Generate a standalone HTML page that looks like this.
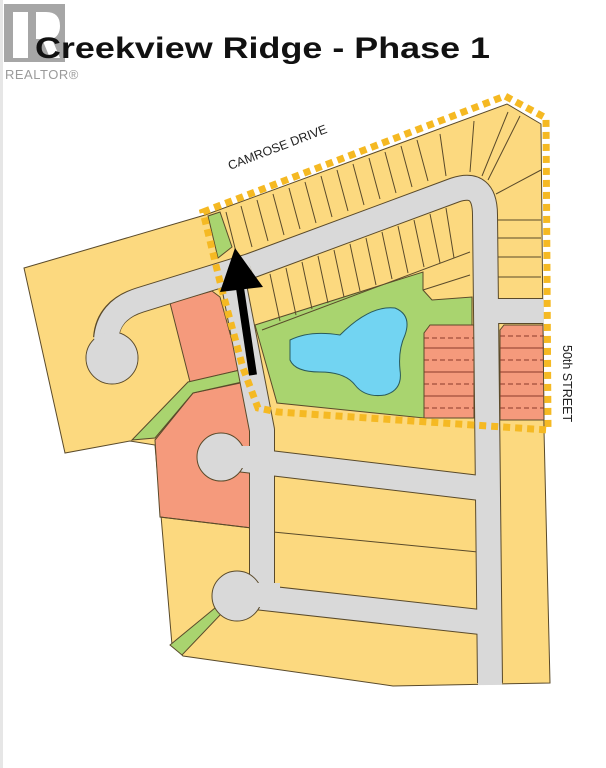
<!DOCTYPE html>
<html><head><meta charset="utf-8"><style>
html,body{margin:0;padding:0;background:#fff;}
svg{display:block;}
</style></head><body>
<svg width="606" height="768" viewBox="0 0 606 768" xmlns="http://www.w3.org/2000/svg">
<rect width="606" height="768" fill="#fff"/>
<rect x="0" y="0" width="3" height="768" fill="#e6e6e6"/>
<rect x="4" y="4" width="61" height="58" fill="#a6a6a6"/>
<rect x="13" y="12" width="15" height="46" fill="#fff"/>
<path d="M36 12 h10 q14 0 14 14 q0 10 -8 13 l8 19 h-10 l-8 -19 h-6z" fill="#fff"/>
<text x="5" y="79" font-family="Liberation Sans, sans-serif" font-size="13" fill="#9a9a9a" letter-spacing="0.5">REALTOR®</text>
<text x="35" y="58" font-family="Liberation Sans, sans-serif" font-weight="bold" font-size="30" fill="#111" textLength="455" lengthAdjust="spacingAndGlyphs">Creekview Ridge - Phase 1</text>

<polygon points="24,268 205,215 507,104 541,124 544,430 550,683 393,686 183,656 172,645 155,445 130,441 65,453" fill="#fcd97f" stroke="#5a4a2a" stroke-width="1"/>

<g fill="#f59a7c" stroke="#5a4a2a" stroke-width="1">
<polygon points="170,303 212,291 220,297 240,370 190,382"/>
<polygon points="155,440 193,393 245,382 252,440 252,528 160,517"/>
<polygon points="428,325 474,325 474,418 424,418 424,332"/>
<polygon points="504,325 543,325 544,420 500,420 500,330"/>
</g>
<g stroke="#8a3a2a" stroke-width="1">
<line x1="424" y1="338" x2="474" y2="338" stroke-dasharray="5 3"/>
<line x1="424" y1="348" x2="474" y2="348"/>
<line x1="424" y1="360" x2="474" y2="360" stroke-dasharray="5 3"/>
<line x1="424" y1="372" x2="474" y2="372"/>
<line x1="424" y1="384" x2="474" y2="384" stroke-dasharray="5 3"/>
<line x1="424" y1="396" x2="474" y2="396"/>
<line x1="424" y1="408" x2="474" y2="408" stroke-dasharray="5 3"/>
<line x1="500" y1="336" x2="544" y2="336" stroke-dasharray="5 3"/>
<line x1="500" y1="348" x2="544" y2="348"/>
<line x1="500" y1="360" x2="544" y2="360" stroke-dasharray="5 3"/>
<line x1="500" y1="372" x2="544" y2="372"/>
<line x1="500" y1="384" x2="544" y2="384" stroke-dasharray="5 3"/>
<line x1="500" y1="396" x2="544" y2="396"/>
<line x1="500" y1="408" x2="544" y2="408" stroke-dasharray="5 3"/>
</g>

<g fill="#a9d46f" stroke="#5a4a2a" stroke-width="1">
<polygon points="255,325 423,272 423,290 432,300 472,297 472,325 430,325 424,333 424,418 277,403"/>
<polygon points="208,216 220,212 232,247 218,258"/>
<polygon points="132,440 188,382 240,370 242,382 193,393 155,438"/>
<polygon points="170,645 215,608 222,613 182,655"/>
</g>

<g stroke="#5a4a2a" stroke-width="1" fill="none">
<line x1="253" y1="530" x2="478" y2="552"/>
<line x1="160" y1="517" x2="252" y2="528"/>
<line x1="262" y1="330" x2="470" y2="252"/>
<line x1="423" y1="290" x2="470" y2="275"/>
<path d="M236,252 L226,212 M252,247 L241,206 M268,241 L257,200 M284,235 L273,194 M300,229 L289,188 M316,223 L305,182 M332,217 L321,176 M348,211 L337,170 M364,205 L353,164 M380,199 L369,158 M396,193 L385,152 M412,187 L401,146 M428,181 L417,140 M446,176 L440,134 M470,172 L474,121 M482,176 L508,112 M488,180 L520,116 M496,194 L541,170"/>
<path d="M270,274 L280,321 M286,268 L296,315 M302,262 L312,309 M318,256 L328,303 M334,250 L344,297 M350,244 L360,291 M366,238 L376,285 M382,232 L392,279 M398,226 L408,273 M414,220 L424,267 M430,214 L440,263 M446,208 L454,258"/>
<path d="M498,220 L541,220 M498,238 L541,238 M498,257 L541,257 M498,277 L541,277"/>
</g>

<!-- left hook cul-de-sac outline -->
<g fill="none" stroke-linejoin="round">
<path d="M250,266 L140,300 Q108,310 106,338" stroke="#5a4a2a" stroke-width="26"/>
</g>
<circle cx="112" cy="358" r="26" fill="#d9d9d9" stroke="#5a4a2a" stroke-width="1"/>

<g fill="none" stroke-linejoin="round" stroke-linecap="butt">
<g stroke="#5a4a2a" stroke-width="26">
<path d="M250,266 L455,190 Q485,180 485,215 L490,683"/>
<path d="M232,275 L262,430 L262,600"/>
<path d="M220,457 L270,463 L480,488"/>
<path d="M237,595 L480,622"/>
<path d="M490,311 L543,311"/>
</g>
<g stroke="#d9d9d9" stroke-width="24">
<path d="M250,266 L140,300 Q108,310 106,340"/>
<path d="M250,266 L455,190 Q485,180 485,215 L490,685"/>
<path d="M232,275 L262,430 L262,600"/>
<path d="M220,457 L270,463 L480,488"/>
<path d="M237,595 L480,622"/>
<path d="M490,311 L544,311"/>
</g>
</g>
<circle cx="112" cy="358" r="25.5" fill="#d9d9d9"/>
<g fill="#d9d9d9" stroke="#5a4a2a" stroke-width="1">
<circle cx="221" cy="457" r="24"/>
<circle cx="237" cy="596" r="25"/>
</g>
<g fill="#d9d9d9">
<rect x="225" y="446" width="45" height="22"/>
<rect x="240" y="583" width="40" height="24"/>
</g>

<path d="M290,340 Q310,330 340,335 Q370,305 395,308 Q412,315 405,335 Q398,350 400,370 Q403,390 385,395 Q365,398 355,385 Q345,372 320,372 Q295,372 290,360 Z" fill="#72d4f2" stroke="#2a5a5a" stroke-width="1"/>

<path d="M203,212 L505,96 L546,118 L548,430 L278,412 L258,408 L243,368 L222,290 Z" fill="none" stroke="#f5b923" stroke-width="7" stroke-dasharray="7 5"/>

<line x1="253" y1="375" x2="240" y2="288" stroke="#000" stroke-width="8"/>
<polygon points="235,248 220,292 263,287" fill="#000"/>

<text transform="translate(230,170) rotate(-21)" font-family="Liberation Sans, sans-serif" font-size="12.5" fill="#222">CAMROSE DRIVE</text>
<text transform="translate(563,345) rotate(90)" font-family="Liberation Sans, sans-serif" font-size="12.5" fill="#222">50th STREET</text>
</svg>
</body></html>
